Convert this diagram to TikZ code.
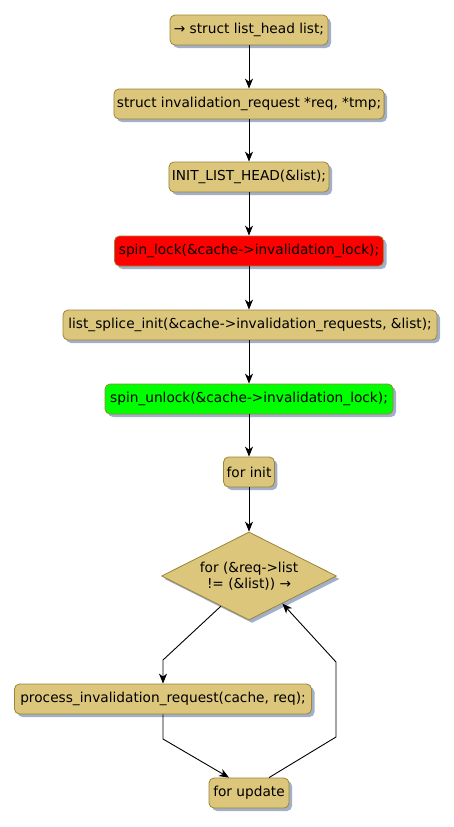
\documentclass[tikz,border=0pt]{standalone}
\usepackage{fontspec}
\setmainfont{DejaVu Sans}
\usetikzlibrary{shapes.geometric,shadows,arrows.meta,calc}
\definecolor{boxfill}{HTML}{DBC67C}
\definecolor{boxline}{HTML}{9C8438}
\definecolor{shade}{HTML}{A2AFC9}
\definecolor{redfill}{HTML}{FF0000}
\definecolor{greenfill}{HTML}{00FF00}
\begin{document}
\begin{tikzpicture}[x=1pt,y=-1pt,
  act/.style={draw=boxline, fill=boxfill, rounded corners=5pt, line width=0.8pt,
    minimum height=30pt, inner xsep=3pt, inner ysep=0pt,
    font=\fontsize{13.7}{16}\selectfont,
    drop shadow={shadow xshift=3pt,shadow yshift=-3pt,fill=shade,opacity=1}},
  conn/.style={draw=black, line width=0.9pt, -{Stealth[length=10pt,width=8pt,inset=3pt]}}]
\useasboundingbox (0,0) rectangle (454,827);

\node[act, minimum width=158pt] (n1) at (249,30) {→ struct list\_head list;};
\node[act, minimum width=270pt] (n2) at (249,104) {struct invalidation\_request *req, *tmp;};
\node[act, minimum width=158pt] (n3) at (249,177) {INIT\_LIST\_HEAD(\&list);};
\node[act, fill=redfill, minimum width=269pt] (n4) at (249,251) {spin\_lock(\&cache->invalidation\_lock);};
\node[act, minimum width=374pt] (n5) at (250,325) {list\_splice\_init(\&cache->invalidation\_requests, \&list);};
\node[act, fill=greenfill, minimum width=288pt] (n6) at (249,399) {spin\_unlock(\&cache->invalidation\_lock);};
\node[act, minimum width=50pt] (n7) at (249,472) {for init};
\node[act, shape=diamond, aspect=2, rounded corners=0pt, minimum width=175pt, minimum height=88pt,
  inner sep=0pt, align=center] (d) at (249,576) {for (\&req->list\\!= (\&list)) →};
\node[act, minimum width=297pt] (n9) at (163,699) {process\_invalidation\_request(cache, req);};
\node[act, minimum width=80pt] (n10) at (249,793) {for update};

\draw[conn] (n1) -- (n2);
\draw[conn] (n2) -- (n3);
\draw[conn] (n3) -- (n4);
\draw[conn] (n4) -- (n5.north -| n4);
\draw[conn] (n5.south -| n6) -- (n6);
\draw[conn] (n6) -- (n7);
\draw[conn] (n7) -- (d);

\coordinate (dl) at ($(d.west)!0.68!(d.south)$);
\coordinate (dr) at ($(d.east)!0.62!(d.south)$);
\coordinate (a1) at (n9.north |- 0,660);
\coordinate (b1) at (n9.south |- 0,739);
\coordinate (u1) at ($(n10.north)+(-20,0)$);
\coordinate (u2) at ($(n10.north)+(20,0)$);
\coordinate (c1) at (336,737);
\coordinate (c2) at (336,662);

\draw[conn] (dl) -- (a1) -- (n9.north);
\draw[conn] (n9.south) -- (b1) -- (u1);
\draw[conn] (u2) -- (c1) -- (c2) -- (dr);
\end{tikzpicture}
\end{document}
